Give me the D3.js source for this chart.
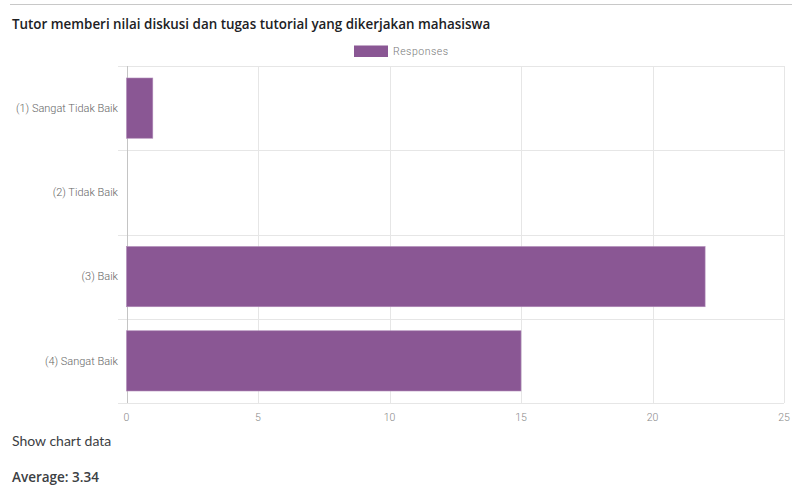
<!DOCTYPE html>
<html><head><meta charset="utf-8">
<script src="https://cdn.jsdelivr.net/npm/d3@7"></script>
<style>
body{margin:0;background:#fff;}
svg{display:block;}
</style></head>
<body>
<svg id="chart" width="792" height="486"></svg>
<script>
const title = "Tutor memberi nilai diskusi dan tugas tutorial yang dikerjakan mahasiswa";
const categories = ["(1) Sangat Tidak Baik", "(2) Tidak Baik", "(3) Baik", "(4) Sangat Baik"];
const responses = [1, 0, 22, 15];
const xTicks = [0, 5, 10, 15, 20, 25];
const seriesName = "Responses";
const averageText = "Average: 3.34";
const showDataText = "Show chart data";

(function () {
const svg = d3.select("#chart");
const pLeft = 126.5, pRight = 784, pTop = 66, pBottom = 403;
const barColor = "#8a5794";

svg.append("line").attr("x1", 10).attr("x2", 792).attr("y1", 4.5).attr("y2", 4.5)
  .attr("stroke", "#c8c8c8").attr("stroke-width", 1.2);

svg.append("text").attr("x", 12).attr("y", 29).text(title)
  .attr("font-family", "'Open Sans', sans-serif").attr("font-weight", 600)
  .attr("font-size", 13.4).attr("fill", "#202124");

const x = d3.scaleLinear().domain([0, 25]).range([pLeft, pRight]);
const y = d3.scaleBand().domain(categories).range([pTop, pBottom]).padding(0);

const bounds = categories.map(c => y(c)).concat([pBottom]);
svg.append("g").selectAll("line").data(bounds).join("line")
  .attr("x1", 118).attr("x2", pRight).attr("y1", d => Math.round(d) + 0.5).attr("y2", d => Math.round(d) + 0.5)
  .attr("stroke", "#e6e6e6").attr("stroke-width", 1);

svg.append("g").selectAll("line").data(xTicks).join("line")
  .attr("x1", d => Math.round(x(d)) + 0.5).attr("x2", d => Math.round(x(d)) + 0.5)
  .attr("y1", pTop).attr("y2", pBottom)
  .attr("stroke", d => d === 0 ? "#c4c4c4" : "#e6e6e6").attr("stroke-width", 1);

const bh = y.bandwidth() * 0.715;
svg.append("g").selectAll("rect").data(categories.map((c, i) => ({c, v: responses[i]})).filter(d => d.v > 0))
  .join("rect")
  .attr("x", x(0)).attr("y", d => y(d.c) + (y.bandwidth() - bh) / 2)
  .attr("width", d => x(d.v) - x(0)).attr("height", bh)
  .attr("fill", barColor).attr("stroke", "#b08bb8").attr("stroke-width", 0.6);

svg.append("g").selectAll("text").data(xTicks).join("text")
  .attr("x", d => x(d)).attr("y", 421).attr("text-anchor", "middle").text(d => d)
  .attr("font-family", "Roboto, sans-serif").attr("font-weight", 300).attr("font-size", 10.5).attr("fill", "#888");

svg.append("g").selectAll("text").data(categories).join("text")
  .attr("x", 118).attr("y", d => y(d) + y.bandwidth() / 2 + 3.8).attr("text-anchor", "end").text(d => d)
  .attr("font-family", "Roboto, sans-serif").attr("font-weight", 300).attr("font-size", 11).attr("fill", "#666");

svg.append("rect").attr("x", 354).attr("y", 45.5).attr("width", 34).attr("height", 11.5).attr("fill", barColor);
svg.append("text").attr("x", 393).attr("y", 55).text(seriesName)
  .attr("font-family", "Roboto, sans-serif").attr("font-weight", 300).attr("font-size", 10.5).attr("fill", "#777").attr("letter-spacing", 0.5);

svg.append("text").attr("x", 12).attr("y", 446).text(showDataText)
  .attr("font-family", "Lato, 'Open Sans', sans-serif").attr("font-size", 14).attr("fill", "#3c4043");
svg.append("text").attr("x", 12).attr("y", 482).text(averageText)
  .attr("font-family", "'Open Sans', sans-serif").attr("font-weight", 600).attr("font-size", 13.5).attr("fill", "#3c4043");
})();
</script>
</body></html>
